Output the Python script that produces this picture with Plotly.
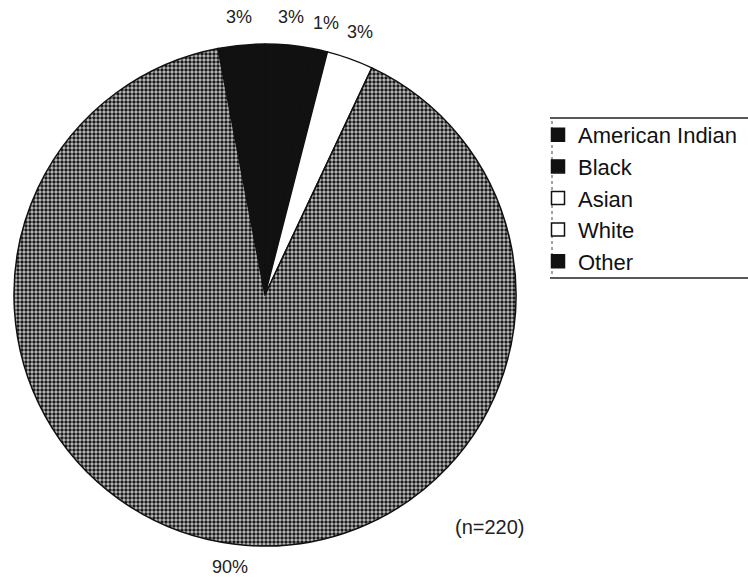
import math
import plotly.graph_objects as go

# Pie slices in clockwise order from just left of 12 o'clock
slice_labels = ["American Indian", "Black", "Other", "Asian", "White"]
slice_values = [3, 3, 1, 3, 90]
slice_colors = ["#111111", "#111111", "#111111", "#ffffff", "#8c8c8c"]

# Legend order as printed
legend_labels = ["American Indian", "Black", "Asian", "White", "Other"]
legend_colors = ["#111111", "#111111", "#ffffff", "#ffffff", "#111111"]

n_note = "(n=220)"

W, H = 748, 579
cx, cy, r = 265, 295, 251
start_deg = -10.8
label_r = 279
FONT = "Liberation Sans, Arial, sans-serif"

fig = go.Figure()
fig.add_trace(go.Pie(
    labels=slice_labels,
    values=slice_values,
    sort=False,
    direction="clockwise",
    rotation=start_deg,
    marker=dict(colors=slice_colors, line=dict(color="#111111", width=1.5),
                pattern=dict(shape=["", "", "", "", "."], fgcolor="#1a1a1a",
                             bgcolor="#c4c4c4", size=4, solidity=0.58)),
    textposition="none",
    showlegend=False,
    hoverinfo="label+percent",
    domain=dict(x=[(cx - r) / W, (cx + r) / W],
                y=[1 - (cy + r) / H, 1 - (cy - r) / H]),
))

for lab, col in zip(legend_labels, legend_colors):
    fig.add_trace(go.Scatter(
        x=[None], y=[None], mode="markers", name=lab,
        marker=dict(symbol="square", size=13, color=col, line=dict(color="#111111", width=1.5)),
    ))

# percentage labels placed outside each slice, at its mid angle
annotations = []
total = sum(slice_values)
acc = 0.0
for v in slice_values:
    mid = start_deg + (acc + v / 2) / total * 360
    acc += v
    th = math.radians(mid)
    px = cx + label_r * math.sin(th)
    py = cy - label_r * math.cos(th)
    py = min(py, H - 12)
    annotations.append(dict(text=f"{round(v / total * 100)}%", xref="paper", yref="paper",
                            x=px / W, y=1 - py / H, xanchor="center", yanchor="middle",
                            showarrow=False, font=dict(family=FONT, size=18, color="#222222")))

annotations.append(dict(text=n_note, xref="paper", yref="paper", x=527 / W, y=1 - 540 / H,
                        showarrow=False, font=dict(family=FONT, size=20, color="#222222")))

fig.update_layout(
    width=W, height=H,
    margin=dict(l=0, r=0, t=0, b=0),
    paper_bgcolor="white", plot_bgcolor="white",
    xaxis=dict(visible=False), yaxis=dict(visible=False),
    legend=dict(x=538 / W, y=1 - 114 / H, xanchor="left", yanchor="top",
                font=dict(family=FONT, size=22, color="#111111"),
                tracegroupgap=0, itemwidth=30, bgcolor="rgba(0,0,0,0)"),
    shapes=[
        dict(type="line", xref="paper", yref="paper", x0=550 / W, x1=1, y0=1 - 118 / H, y1=1 - 118 / H,
             line=dict(color="#222222", width=1.5)),
        dict(type="line", xref="paper", yref="paper", x0=550 / W, x1=1, y0=1 - 278 / H, y1=1 - 278 / H,
             line=dict(color="#222222", width=1.5)),
        dict(type="line", xref="paper", yref="paper", x0=552 / W, x1=552 / W, y0=1 - 121 / H, y1=1 - 275 / H,
             line=dict(color="#444444", width=1, dash="dot")),
    ],
    annotations=annotations,
)

fig.write_html("out.html", config={"displayModeBar": False},
               post_script="document.body.style.margin='0';document.body.style.overflow='hidden';")
